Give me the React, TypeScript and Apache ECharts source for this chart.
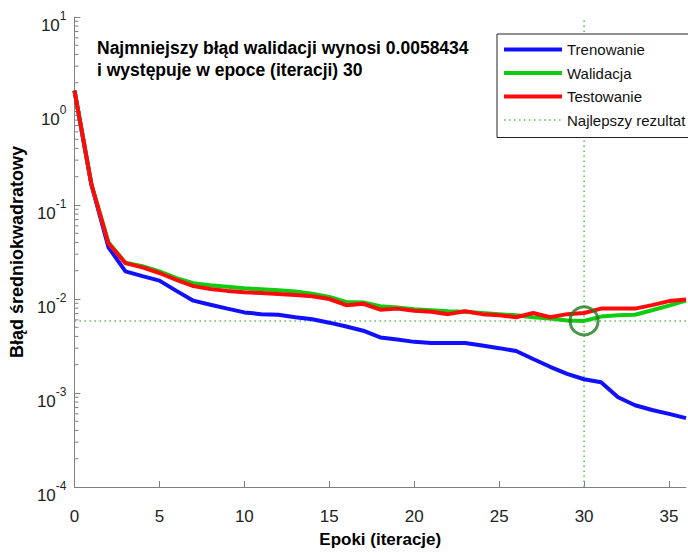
import React, { useEffect, useRef } from "react";
import * as echarts from "echarts";

const epochs = Array.from({ length: 37 }, (_, i) => i);
const trainValues = [
  1.65, 0.163, 0.0355, 0.0197, 0.0175, 0.0157, 0.0122, 0.0096, 0.0087, 0.0079,
  0.0072, 0.0069, 0.0068, 0.0064, 0.0061, 0.0056, 0.0051, 0.0046, 0.0039, 0.0037,
  0.0035, 0.0034, 0.0034, 0.0034, 0.0032, 0.003, 0.0028, 0.0023, 0.0019, 0.0016,
  0.0014, 0.0013, 0.0009, 0.00074, 0.00066, 0.0006, 0.00054,
];
const validationValues = [
  1.65, 0.165, 0.04, 0.0243, 0.0223, 0.0197, 0.0167, 0.0147, 0.014, 0.0135,
  0.013, 0.0127, 0.0124, 0.012, 0.0114, 0.0105, 0.0093, 0.0092, 0.0084, 0.0081,
  0.0078, 0.0076, 0.0074, 0.0073, 0.0071, 0.0069, 0.0067, 0.0064, 0.0062, 0.0059,
  0.0058434, 0.0065, 0.0067, 0.0068, 0.0076, 0.0085, 0.0096,
];
const testValues = [
  1.65, 0.165, 0.039, 0.0241, 0.0217, 0.0189, 0.016, 0.0137, 0.0128, 0.0122,
  0.0118, 0.0116, 0.0113, 0.011, 0.0107, 0.01, 0.0086, 0.0089, 0.0077, 0.0079,
  0.0075, 0.0073, 0.0069, 0.0074, 0.0069, 0.0067, 0.0064, 0.0071, 0.0064, 0.0069,
  0.0071, 0.0079, 0.0079, 0.0079, 0.0086, 0.0095, 0.0099,
];
const bestEpoch = 30;
const bestValue = 0.0058434;
const xMin = 0;
const xMax = 36;
const yMin = 1e-4;
const yMax = 10;
const seriesNames = ["Trenowanie", "Walidacja", "Testowanie", "Najlepszy rezultat"];
const minorTickValues: number[] = [];
for (let e = -4; e <= 0; e++) {
  for (let k = 2; k <= 9; k++) minorTickValues.push(k * Math.pow(10, e));
}

const FONT = '"Liberation Sans", Arial, sans-serif';
const BEST_COLOR = "#5cb85c";

export default function App() {
  const ref = useRef<HTMLDivElement>(null);
  useEffect(() => {
    if (!ref.current) return;
    const chart = echarts.init(ref.current, undefined, { renderer: "svg" });
    const pairs = (vals: number[]) => epochs.map((e, i) => [e, vals[i]]);
    const bestLineStyle = { color: BEST_COLOR, width: 1.5, type: [1.5, 3.5] };
    chart.setOption({
      animation: false,
      backgroundColor: "#ffffff",
      textStyle: { fontFamily: FONT },
      grid: { left: 73, right: 2, top: 17, bottom: 60, containLabel: false },
      legend: {
        data: seriesNames,
        orient: "vertical",
        left: 497,
        top: 34,
        padding: [8, 30, 10, 5],
        itemWidth: 58,
        itemHeight: 14,
        itemGap: 8.5,
        borderColor: "#222",
        borderWidth: 1,
        backgroundColor: "#fff",
        borderRadius: 0,
        textStyle: { fontSize: 15, color: "#111", fontFamily: FONT },
        lineStyle: { width: "inherit" },
        itemStyle: { opacity: 0 },
      },
      graphic: [
        {
          type: "text",
          left: 97,
          top: 37,
          z: 10,
          style: {
            text: "Najmniejszy błąd walidacji wynosi 0.0058434\ni występuje w epoce (iteracji) 30",
            font: `bold 17.5px ${FONT}`,
            lineHeight: 22,
            fill: "#000",
          },
        },
      ],
      xAxis: {
        type: "value",
        min: xMin,
        max: xMax,
        interval: 5,
        name: "Epoki (iteracje)",
        nameLocation: "middle",
        nameGap: 44,
        nameTextStyle: { fontSize: 17, fontWeight: "bold", color: "#000", fontFamily: FONT },
        axisLine: { show: true, lineStyle: { color: "#808080", width: 1 } },
        axisTick: { show: true, inside: true, length: 6, lineStyle: { color: "#808080" } },
        axisLabel: { fontSize: 17, color: "#222", margin: 21, showMaxLabel: false, fontFamily: FONT },
        splitLine: { show: false },
      },
      yAxis: {
        type: "log",
        logBase: 10,
        min: yMin,
        max: yMax,
        splitNumber: 5,
        name: "Błąd średniokwadratowy",
        nameLocation: "middle",
        nameGap: 47,
        nameTextStyle: { fontSize: 18, fontWeight: "bold", color: "#000", fontFamily: FONT },
        axisLine: { show: true, lineStyle: { color: "#808080", width: 1 } },
        axisTick: { show: true, inside: true, length: 6, lineStyle: { color: "#808080" } },
        axisLabel: {
          margin: 8,
          padding: [10, 0, 0, 0],
          formatter: (v: number) => `{b|10}{e|${Math.round(Math.log10(v))}}`,
          rich: {
            b: { fontSize: 17, color: "#222", lineHeight: 24, verticalAlign: "bottom", fontFamily: FONT },
            e: { fontSize: 12, color: "#222", lineHeight: 14, verticalAlign: "top", fontFamily: FONT },
          },
        },
        splitLine: { show: false },
      },
      series: [
        {
          type: "custom",
          name: "minor",
          silent: true,
          data: minorTickValues.map((v) => [0, v]),
          encode: { x: 0, y: 1 },
          renderItem: (params: any, api: any) => {
            const p = api.coord([0, api.value(1)]);
            return {
              type: "line",
              shape: { x1: p[0], y1: p[1], x2: p[0] + 4, y2: p[1] },
              style: { stroke: "#808080", lineWidth: 1 },
            };
          },
          z: 1,
        },
        {
          type: "line",
          name: "Najlepszy rezultat",
          data: [
            [xMin, bestValue],
            [xMax, bestValue],
          ],
          showSymbol: false,
          symbol: "none",
          silent: true,
          lineStyle: bestLineStyle,
          itemStyle: { color: BEST_COLOR },
          z: 2,
        },
        {
          type: "line",
          name: "Najlepszy rezultat",
          data: [
            [bestEpoch, yMin],
            [bestEpoch, yMax],
          ],
          showSymbol: false,
          symbol: "none",
          silent: true,
          lineStyle: bestLineStyle,
          itemStyle: { color: BEST_COLOR },
          z: 2,
        },
        {
          type: "line",
          name: "Trenowanie",
          data: pairs(trainValues),
          showSymbol: false,
          symbol: "none",
          lineStyle: { color: "#1010ff", width: 4 },
          itemStyle: { color: "#1010ff" },
          z: 3,
        },
        {
          type: "line",
          name: "Walidacja",
          data: pairs(validationValues),
          showSymbol: false,
          symbol: "none",
          lineStyle: { color: "#10cc10", width: 4 },
          itemStyle: { color: "#10cc10" },
          z: 4,
        },
        {
          type: "line",
          name: "Testowanie",
          data: pairs(testValues),
          showSymbol: false,
          symbol: "none",
          lineStyle: { color: "#ff0a0a", width: 4 },
          itemStyle: { color: "#ff0a0a" },
          z: 5,
        },
        {
          type: "scatter",
          name: "best",
          data: [[bestEpoch, bestValue]],
          symbol: "circle",
          symbolSize: 28,
          silent: true,
          itemStyle: { color: "rgba(0,0,0,0)", borderColor: "#1e7b1e", borderWidth: 3 },
          z: 6,
        },
      ],
    });
    return () => chart.dispose();
  }, []);
  return (
    <div
      ref={ref}
      style={{ position: "absolute", left: 0, top: 0, width: 688, height: 553, background: "#fff" }}
    />
  );
}
